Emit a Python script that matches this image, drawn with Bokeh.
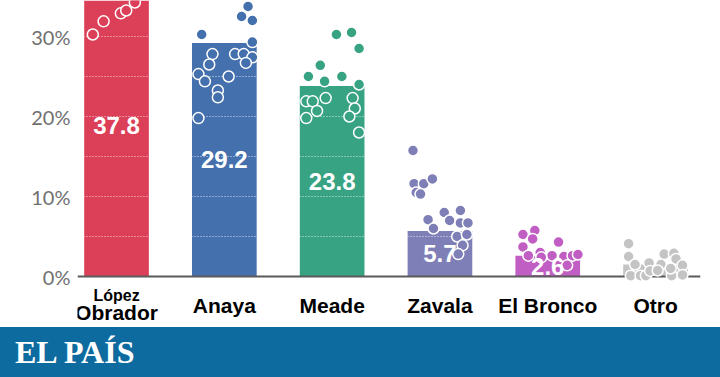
from bokeh.plotting import figure
from bokeh.layouts import column
from bokeh.models import Range1d, FixedTicker, Span, ColumnDataSource, Div
from bokeh.core.properties import value
from bokeh.embed import file_html
from bokeh.resources import INLINE

# ---------------- data ----------------
candidates = ["López Obrador", "Anaya", "Meade", "Zavala", "El Bronco", "Otro"]
label_small = ["López", "", "", "", "", ""]
label_main = ["Obrador", "Anaya", "Meade", "Zavala", "El Bronco", "Otro"]
averages = [37.8, 29.2, 23.8, 5.7, 2.6, 1.5]
average_labels = ["37.8", "29.2", "23.8", "5.7", "2.6", ""]
colors = ["#dc4058", "#4470ad", "#38a382", "#7f7fb7", "#c05ec4", "#c4c4c4"]

tick_values = [0, 10, 20, 30]
tick_labels = ["0%", "10%", "20%", "30%"]
grid_values = [5, 10, 15, 20, 25, 30]

polls_lopez = [30.25, 31.9, 32.9, 33.25, 34.25, 35.5, 36.5, 37.5, 38.5, 39.0, 40.0, 41.0, 42.0, 43.0, 44.5]
jitter_lopez = [-0.22, -0.12, 0.04, 0.09, 0.17, 0.25, -0.05, 0.20, -0.15, -0.20, 0.10, 0.0, -0.1, 0.15, 0.05]

polls_anaya = [30.25, 33.75, 32.5, 32.0, 29.3, 27.8, 27.8, 27.8, 27.4, 26.7, 26.5, 25.3, 24.4, 25.0, 23.25, 22.4, 19.8]
jitter_anaya = [-0.21, 0.22, 0.16, 0.26, 0.26, -0.11, 0.10, 0.18, 0.26, 0.20, -0.14, -0.24, -0.18, 0.04, -0.06, -0.06, -0.24]

polls_meade = [30.25, 30.5, 28.5, 26.4, 25.0, 24.4, 25.0, 24.0, 21.9, 21.9, 22.3, 20.7, 19.8, 22.3, 21.0, 20.0, 18.0]
jitter_meade = [0.04, 0.18, 0.25, -0.11, -0.22, -0.07, 0.09, 0.25, -0.24, -0.18, -0.06, -0.14, -0.24, 0.19, 0.21, 0.16, 0.25]

polls_zavala = [15.75, 11.6, 11.6, 12.2, 10.5, 10.3, 8.0, 8.25, 7.1, 7.0, 6.7, 6.7, 6.0, 5.0, 5.25, 3.9, 2.8]
jitter_zavala = [-0.25, -0.24, -0.15, -0.07, -0.22, -0.18, 0.04, 0.19, -0.11, 0.09, 0.19, 0.26, -0.06, 0.16, 0.25, 0.21, 0.17]

polls_bronco = [5.25, 5.75, 4.7, 4.3, 3.7, 2.6, 3.0, 2.6, 2.5, 2.6, 1.4, 2.4, 2.75]
jitter_bronco = [-0.23, -0.12, -0.14, 0.10, -0.23, -0.18, -0.07, 0.04, 0.15, 0.23, 0.18, -0.06, 0.28]

polls_otro = [4.1, 2.5, 1.5, 1.7, 1.5, 2.8, 2.9, 2.2, 1.4, 0.1, 0.1, 0.1, 0.1, 0.2, 0.7, 1.0, 0.75]
jitter_otro = [-0.25, -0.25, -0.19, -0.06, 0.05, 0.08, 0.17, 0.19, 0.25, -0.23, -0.14, -0.09, 0.15, 0.25, -0.05, 0.14, 0.02]

polls = [polls_lopez, polls_anaya, polls_meade, polls_zavala, polls_bronco, polls_otro]
jitters = [jitter_lopez, jitter_anaya, jitter_meade, jitter_zavala, jitter_bronco, jitter_otro]

# ---------------- main chart ----------------
idx = list(range(len(candidates)))

p = figure(width=720, height=327,
           x_range=Range1d(-0.362, 5.417), y_range=Range1d(-6.375, 34.5),
           output_backend="svg", toolbar_location=None,
           x_axis_location=None, y_axis_location="left",
           min_border_left=77, min_border_right=20,
           min_border_top=0, min_border_bottom=0)
p.outline_line_color = None
p.background_fill_color = "white"
p.border_fill_color = "white"
p.xgrid.grid_line_color = None

bar_src = ColumnDataSource(dict(x=idx, top=averages, color=colors,
                                lab=average_labels,
                                mid=[a / 2 for a in averages]))
bars = p.vbar(x="x", top="top", bottom=0, width=0.6, fill_color="color",
              line_color=None, source=bar_src)
bars.level = "image"

p.ygrid.ticker = FixedTicker(ticks=grid_values)
p.ygrid.grid_line_color = "white"
p.ygrid.grid_line_dash = "1 2"
p.ygrid.grid_line_width = 1
p.ygrid.grid_line_alpha = 0.8
p.ygrid.level = "underlay"

base = Span(location=0, dimension="width", line_color="#5a5a5a", line_width=2)
base.level = "underlay"
p.add_layout(base)

dx, dy, dc = [], [], []
for i, (vals, jit) in enumerate(zip(polls, jitters)):
    for v, j in zip(vals, jit):
        dx.append(i + j)
        dy.append(v)
        dc.append(colors[i])
dot_src = ColumnDataSource(dict(x=dx, y=dy, c=dc))
p.scatter(x="x", y="y", size=11, fill_color="c", line_color="white",
          line_width=1.5, source=dot_src)

p.text(x="x", y="mid", text="lab", source=bar_src, text_color="white",
       text_font=value("Liberation Sans"), text_font_style="bold",
       text_font_size="24px", text_align="center", text_baseline="middle")

# category labels
single = [i for i in idx if label_small[i] == ""]
double = [i for i in idx if label_small[i] != ""]
p.text(x=single, y=[-3.65] * len(single), text=[label_main[i] for i in single],
       text_color="black", text_font=value("Liberation Sans"),
       text_font_style="bold", text_font_size="21px",
       text_align="center", text_baseline="middle")
p.text(x=double, y=[-2.4] * len(double), text=[label_small[i] for i in double],
       text_color="black", text_font=value("Liberation Sans"),
       text_font_style="bold", text_font_size="16px",
       text_align="center", text_baseline="middle")
p.text(x=double, y=[-4.45] * len(double), text=[label_main[i] for i in double],
       text_color="black", text_font=value("Liberation Sans"),
       text_font_style="bold", text_font_size="21px",
       text_align="center", text_baseline="middle")

yax = p.yaxis[0]
yax.ticker = FixedTicker(ticks=tick_values)
yax.major_label_overrides = {v: l for v, l in zip(tick_values, tick_labels)}
yax.axis_line_color = None
yax.major_tick_line_color = None
yax.minor_tick_line_color = None
yax.major_tick_out = 0
yax.major_tick_in = 0
yax.major_label_standoff = 7
yax.major_label_text_font = "Lato"
yax.major_label_text_font_size = "20px"
yax.major_label_text_color = "#707070"

# ---------------- banner ----------------
banner = Div(text="EL PAÍS", width=720, height=50, margin=0,
             styles={"background-color": "#0e6ba0", "color": "white",
                     "font-family": "Liberation Serif", "font-weight": "bold",
                     "font-size": "32px", "line-height": "50px",
                     "padding-left": "15px", "box-sizing": "border-box",
                     "width": "720px", "height": "50px"})

layout = column(p, banner, spacing=0)
open("out.html", "w").write(file_html(layout, INLINE))
